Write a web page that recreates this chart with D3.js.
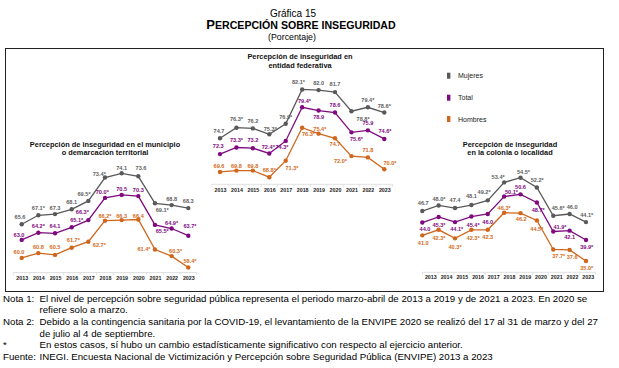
<!DOCTYPE html>
<html><head><meta charset="utf-8">
<script src="https://cdn.jsdelivr.net/npm/d3@7"></script>
<style>body{margin:0;background:#fff} svg{display:block;font-family:"Liberation Sans",Arial,sans-serif}</style>
</head><body><svg id="c" width="619" height="368"></svg>
<script>
// ---------- DATA ----------
const years = [2013,2014,2015,2016,2017,2018,2019,2020,2021,2022,2023];
const seriesNames = ["Mujeres","Total","Hombres"];

const municipioMujeres = [65.6,67.1,67.3,68.1,69.5,73.4,74.1,73.6,69.1,68.8,68.3];
const municipioMujeresSig = [0,1,0,0,1,1,0,0,1,0,0];
const municipioTotal = [63.0,64.2,64.1,65.1,66.3,70.0,70.5,70.3,65.5,64.9,63.7];
const municipioTotalSig = [0,1,0,1,1,1,0,0,1,1,1];
const municipioHombres = [60.0,60.8,60.5,61.7,62.7,66.2,66.3,66.4,61.4,60.3,58.4];
const municipioHombresSig = [0,0,0,1,1,1,0,0,1,1,1];

const entidadMujeres = [74.7,76.3,76.2,75.3,76.9,82.1,82.0,81.7,78.8,79.4,78.6];
const entidadMujeresSig = [0,1,0,1,1,1,0,0,1,1,1];
const entidadTotal = [72.3,73.3,73.2,72.4,74.3,79.4,78.9,78.6,75.6,75.9,74.6];
const entidadTotalSig = [0,1,0,1,1,1,0,0,1,0,1];
const entidadHombres = [69.6,69.8,69.8,68.8,71.3,76.3,75.4,74.7,72.0,71.8,70.0];
const entidadHombresSig = [0,0,0,1,1,1,1,0,1,0,1];

const coloniaMujeres = [46.7,48.0,47.4,48.1,49.2,53.4,54.5,52.2,45.6,46.0,44.1];
const coloniaMujeresSig = [0,1,0,0,1,1,1,1,1,0,1];
const coloniaTotal = [44.0,45.3,44.1,45.4,46.0,50.1,50.6,48.7,41.9,42.1,39.9];
const coloniaTotalSig = [0,1,1,1,0,1,0,1,1,0,1];
const coloniaHombres = [41.0,42.3,40.3,42.3,42.3,46.3,46.2,44.5,37.7,37.6,35.0];
const coloniaHombresSig = [0,1,1,1,0,1,0,1,1,0,1];

const chartTitle = ["Gráfica 15", "PERCEPCIÓN SOBRE INSEGURIDAD", "(Porcentaje)"];
const notes = [
  ["Nota 1:", "El nivel de percepción sobre seguridad pública representa el periodo marzo-abril de 2013 a 2019 y de 2021 a 2023. En 2020 se"],
  ["", "refiere solo a marzo."],
  ["Nota 2:", "Debido a la contingencia sanitaria por la COVID-19, el levantamiento de la ENVIPE 2020 se realizó del 17 al 31 de marzo y del 27"],
  ["", "de julio al 4 de septiembre."],
  ["*", "En estos casos, sí hubo un cambio estadísticamente significativo con respecto al ejercicio anterior."],
  ["Fuente:", "INEGI. Encuesta Nacional de Victimización y Percepción sobre Seguridad Pública (ENVIPE) 2013 a 2023"]
];

// ---------- STYLE / LAYOUT ----------
const colors = {Mujeres:"#595959", Total:"#7f0a80", Hombres:"#d0661c"};
const labelColors = {Mujeres:"#606060", Total:"#7f0a80", Hombres:"#d26a22"};

const panels = [
  { title:["Percepción de inseguridad en el  municipio","o demarcación territorial"], titleX:105, titleY:144,
    series:[[municipioMujeres,municipioMujeresSig],[municipioTotal,municipioTotalSig],[municipioHombres,municipioHombresSig]],
    xr:[21.7,188.3], lxr:[21.7,188.3], yd:[56,76], yr:[281.9,161.9], axisY:272.5, yearY:278,
    off:[
      [[-1.7,-7],[0,-7],[0,-5.7],[0,-7.7],[-4.3,-6.7],[-5.7,-3.7],[0,-5.7],[2.7,-8],[7.3,6.7],[0,-6.3],[0,-7.3]],
      [[-2.7,-4.7],[0,-6.3],[0,-7],[5,-7.3],[-6,-8],[-2.7,-6.3],[0,-5.7],[0,-6],[7.3,5.7],[0,-6],[1.7,-9.3]],
      [[-2.7,-5.7],[0,-6.3],[0,-7.7],[1.7,-7.3],[11,3.3],[0,-5],[0,-4.3],[0,-4],[-11,-0.7],[4,-5],[1.7,-7]]
    ]},
  { title:["Percepción de inseguridad en","entidad federativa"], titleX:300, titleY:56.5,
    series:[[entidadMujeres,entidadMujeresSig],[entidadTotal,entidadTotalSig],[entidadHombres,entidadHombresSig]],
    xr:[220,384.3], lxr:[220,384.3], yd:[66,84], yr:[195.7,76.9], axisY:184.3, yearY:190.3,
    off:[
      [[-1,-7.7],[0,-8.3],[0,-7.7],[1,-5],[0,-6.7],[-3.7,-7.3],[0,-7],[0,-8],[11.7,7.3],[0,-7.7],[0,-7]],
      [[-1.7,-7.7],[0,-7.7],[0,-8.3],[-1,-6],[-3.7,5.7],[2.3,-6.7],[0,6],[0,-7.7],[5,7],[0,-7],[0.7,-8]],
      [[-1,-6.3],[0,-5],[0,-5],[0,-7],[6.3,7.3],[6.3,6.7],[1.3,-4.7],[0,6],[-11,5],[0,-7.3],[5.7,-6]]
    ]},
  { title:["Percepción de inseguridad","en la colonia o localidad"], titleX:510, titleY:144,
    series:[[coloniaMujeres,coloniaMujeresSig],[coloniaTotal,coloniaTotalSig],[coloniaHombres,coloniaHombresSig]],
    xr:[422.3,586], lxr:[430.3,587.7], yd:[32,56], yr:[273.8,171.3], axisY:272.3, yearY:277,
    off:[
      [[1,-7.7],[0.3,-6],[0,-8],[0,-8.7],[-3.7,-8],[-6,-5.7],[3,-5.3],[0.3,-7.3],[5,-7.3],[2.5,-7.3],[0.7,-7.3]],
      [[2.7,6.7],[0.3,7.7],[1.7,7.3],[1.7,8.3],[0,8],[7.3,-4.3],[0,-7],[1.3,7.7],[6.7,-5],[0,6.7],[0.7,7.3]],
      [[1,7.3],[0.3,7.7],[0,8.3],[1.7,7.7],[0,6.7],[0,-4.3],[0.7,6.3],[0,9],[5.5,6.7],[2.5,6.7],[0.7,7.3]]
    ]}
];

const svg = d3.select("#c");
svg.append("rect").attr("width",619).attr("height",368).attr("fill","#fff");

// Header
svg.append("text").attr("x",293).attr("y",16.5).attr("text-anchor","middle")
  .attr("font-size",10).attr("fill","#000").text(chartTitle[0]);
const t2 = svg.append("text").attr("x",301).attr("y",28.5).attr("text-anchor","middle")
  .attr("font-weight","bold").attr("fill","#000");
// small caps rendering: first letter full size, the rest as small capitals
t2.append("tspan").attr("font-size",13).text(chartTitle[1][0]);
t2.append("tspan").attr("font-size",10.6).text(chartTitle[1].slice(1));
svg.append("text").attr("x",292).attr("y",40).attr("text-anchor","middle")
  .attr("font-size",8.8).attr("fill","#000").text(chartTitle[2]);

// Frame
svg.append("rect").attr("x",5.5).attr("y",48.5).attr("width",598).attr("height",243)
  .attr("fill","none").attr("stroke","#222").attr("stroke-width",1);

const fmt = d3.format(".1f");

panels.forEach(p=>{
  const x = d3.scalePoint().domain(years).range(p.xr);
  const xl = d3.scalePoint().domain(years).range(p.lxr);
  const y = d3.scaleLinear().domain(p.yd).range(p.yr);
  const g = svg.append("g");

  p.title.forEach((t,i)=>{
    g.append("text").attr("x",p.titleX).attr("y",p.titleY+i*8.7).attr("text-anchor","middle")
      .attr("font-size",7.4).attr("font-weight","bold").attr("fill","#111").attr("dominant-baseline","central").text(t);
  });

  const step = xl.step();
  const ax = g.append("g").attr("transform",`translate(0,${p.axisY})`);
  ax.call(d3.axisBottom(xl).tickSize(0).tickPadding(0));
  ax.select(".domain").attr("d",`M${p.lxr[0]-step/2},0H${p.lxr[1]+step/2}`).attr("stroke","#d9d9d9").attr("stroke-width",0.8);
  years.concat([null]).forEach((d,i)=>{
    const bx = p.lxr[0]-step/2 + i*step;
    ax.append("line").attr("x1",bx).attr("x2",bx).attr("y1",0).attr("y2",2.5).attr("stroke","#d9d9d9").attr("stroke-width",0.8);
  });
  ax.selectAll(".tick text").attr("y",p.yearY-p.axisY).attr("dy","0.35em")
    .attr("font-size",5.3).attr("font-weight","bold").attr("fill","#222")
    .attr("font-family","'Liberation Sans',Arial,sans-serif");

  p.series.forEach((s,si)=>{
    const name = seriesNames[si];
    const vals = s[0], sig = s[1];
    const pts = years.map((yr,i)=>({yr, v:vals[i], sig:sig[i], off:p.off[si][i]}));
    g.append("path").datum(pts)
      .attr("d", d3.line().x(d=>x(d.yr)).y(d=>y(d.v)))
      .attr("fill","none").attr("stroke",colors[name]).attr("stroke-width",1.3);
    g.selectAll(null).data(pts).enter().append("circle")
      .attr("cx",d=>x(d.yr)).attr("cy",d=>y(d.v)).attr("r",2.2)
      .attr("fill",colors[name]);
    g.selectAll(null).data(pts).enter().append("text")
      .attr("x",d=>x(d.yr)+d.off[0]).attr("y",d=>y(d.v)+d.off[1])
      .attr("text-anchor","middle").attr("dominant-baseline","central")
      .attr("font-size",5.6).attr("font-weight","bold").attr("fill",labelColors[name])
      .text(d=>fmt(d.v)+(d.sig?"*":""));
  });
});

// Legend
const lg = svg.append("g");
seriesNames.forEach((n,i)=>{
  const ly = [75.7,97.7,119][i];
  lg.append("rect").attr("x",447).attr("y",ly-3).attr("width",3.4).attr("height",6).attr("fill",colors[n]);
  lg.append("text").attr("x",458).attr("y",ly).attr("dominant-baseline","central")
    .attr("font-size",7).attr("fill","#222").text(n);
});

// Notes
notes.forEach((n,i)=>{
  const ny = 301.5 + i*11.7;
  svg.append("text").attr("x",3).attr("y",ny).attr("font-size",9.7).attr("fill","#000").text(n[0]);
  svg.append("text").attr("x",39.5).attr("y",ny).attr("font-size",9.7).attr("fill","#000").text(n[1]);
});
</script>
</body></html>
